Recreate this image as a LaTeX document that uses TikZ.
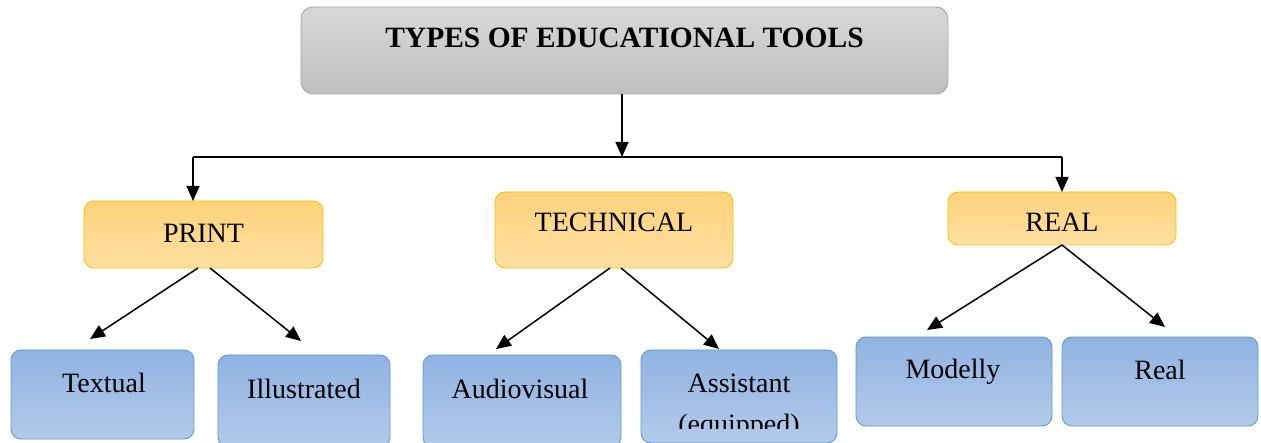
\documentclass[tikz,border=0pt]{standalone}
\usepackage{fontspec}
\setmainfont{Liberation Serif}
\usetikzlibrary{arrows.meta}
\definecolor{grayTop}{HTML}{D8D8D8}
\definecolor{grayBot}{HTML}{BFBFBF}
\definecolor{grayLine}{HTML}{A6A6A6}
\definecolor{orTop}{HTML}{FDD27A}
\definecolor{orBot}{HTML}{FEE0A2}
\definecolor{orLine}{HTML}{FFC000}
\definecolor{blTop}{HTML}{8FB3E2}
\definecolor{blBot}{HTML}{B3CAE9}
\definecolor{blLine}{HTML}{5B9BD5}
\tikzset{
  x=1pt, y=1pt,
  box/.style={rectangle, rounded corners=10pt, line width=0.9pt, inner sep=0pt, outer sep=0pt},
  graybox/.style={box, draw=grayLine, top color=grayTop, bottom color=grayBot, rounded corners=12pt},
  orbox/.style={box, draw=orLine, top color=orTop, bottom color=orBot},
  blbox/.style={box, draw=blLine, top color=blTop, bottom color=blBot},
  txt/.style={font=\fontsize{28}{32}\selectfont, inner sep=0pt},
  arr/.style={line width=1.5pt, -{Triangle[length=15pt,width=13pt]}},
  ln/.style={line width=1.5pt}
}
\begin{document}
\begin{tikzpicture}
\useasboundingbox (0,0) rectangle (1261,-443);
% top box
\node[graybox, minimum width=647pt, minimum height=87pt] (top) at (624.5,-50.5) {};
\node[txt, font=\fontsize{29.5}{33}\selectfont\bfseries] (toptxt) at (624.5,-38) {TYPES OF EDUCATIONAL TOOLS};
% middle level
\node[orbox, minimum width=239pt, minimum height=67pt] (print) at (203.5,-234.5) {};
\node[txt] (printtxt) at (203.5,-233) {PRINT};
\node[orbox, minimum width=238pt, minimum height=76pt] (tech) at (614,-230) {};
\node[txt] (techtxt) at (614,-222) {TECHNICAL};
\node[orbox, minimum width=228pt, minimum height=53pt] (real) at (1062,-218.5) {};
\node[txt] (realtxt) at (1062,-222) {REAL};
% bottom level
\node[blbox, minimum width=183pt, minimum height=89pt] (textual) at (102.5,-394.5) {};
\node[txt] (textualtxt) at (104,-383) {Textual};
\node[blbox, minimum width=172pt, minimum height=92pt] (illus) at (304,-401) {};
\node[txt] (illustxt) at (304,-389) {Illustrated};
\node[blbox, minimum width=198pt, minimum height=92pt] (audio) at (522,-401) {};
\node[txt] (audiotxt) at (520,-389) {Audiovisual};
\node[blbox, minimum width=196pt, minimum height=93pt] (assist) at (739,-396.5) {};
\node[txt] (assisttxt) at (739,-383) {Assistant};
\begin{scope}
\clip (641,-350) rectangle (837,-428);
\node[txt] (equiptxt) at (739,-427) {(equipped)};
\end{scope}
\node[blbox, minimum width=196pt, minimum height=89pt] (modelly) at (954,-381.5) {};
\node[txt] (modellytxt) at (953,-372) {Modelly};
\node[blbox, minimum width=196pt, minimum height=89pt] (realb) at (1160,-381.5) {};
\node[txt] (realbtxt) at (1160,-370) {Real};
% connectors
\coordinate (hl) at (193,-157);
\coordinate (hr) at (1062,-157);
\coordinate (hm) at (622,-157);
\draw[arr] (top.south -| hm) -- (hm);
\draw[ln] (hl) -- (hr);
\draw[arr] (hl) -- (hl |- print.north);
\draw[arr] (hr) -- (hr |- real.north);
% print children
\coordinate (p1) at (90,-339);
\coordinate (p2) at (301,-341);
\draw[arr] (198,-268) coordinate (ps1) -- (p1);
\draw[arr] (210,-268) coordinate (ps2) -- (p2);
% technical children
\coordinate (t1) at (496,-349);
\coordinate (t2) at (719,-349);
\draw[arr] (610,-268) coordinate (ts1) -- (t1);
\draw[arr] (621,-268) coordinate (ts2) -- (t2);
% real children
\coordinate (r1) at (927,-330);
\coordinate (r2) at (1165,-327);
\draw[arr] (real.south) -- (r1);
\draw[arr] (real.south) -- (r2);
\end{tikzpicture}
\end{document}
